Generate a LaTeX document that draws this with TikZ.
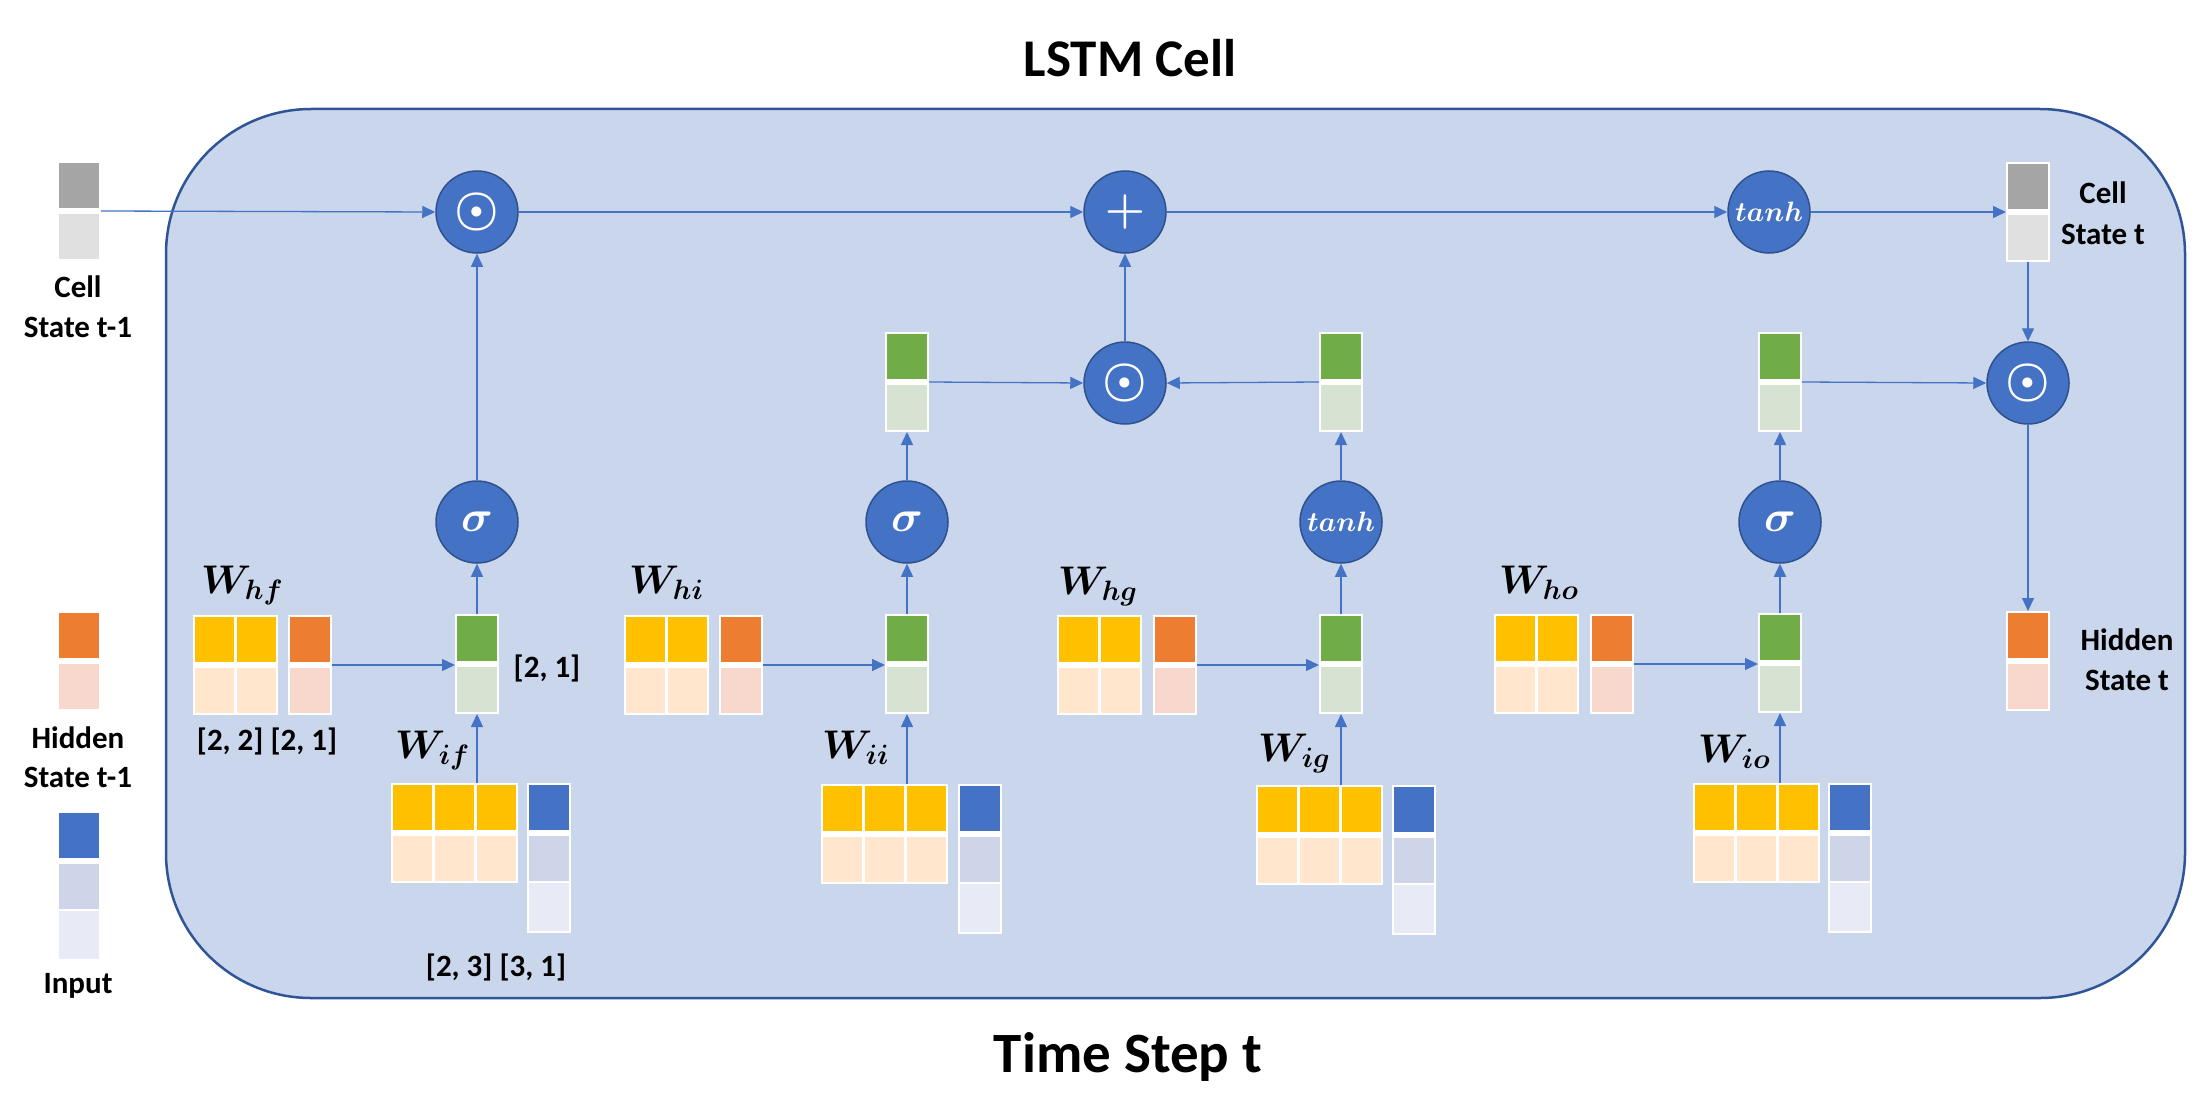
\RequirePackage{fix-cm}
\documentclass[tikz,border=0pt]{standalone}
\usepackage{fontspec}
\setmainfont{Carlito}
\usepackage{amsmath}
\usepackage{bm}
\usetikzlibrary{arrows.meta,calc}
\definecolor{cellbg}{HTML}{CAD6EC}
\definecolor{celledge}{HTML}{2F5597}
\definecolor{opblue}{HTML}{4472C4}
\definecolor{opedge}{HTML}{2F528F}
\definecolor{lineblue}{HTML}{4472C4}
\definecolor{wyel}{HTML}{FFC000}
\definecolor{wpeach}{HTML}{FFE6CC}
\definecolor{horange}{HTML}{ED7D31}
\definecolor{hpink}{HTML}{F8D7CD}
\definecolor{ggreen}{HTML}{70AD47}
\definecolor{ggreenl}{HTML}{D6E3D3}
\definecolor{inblue}{HTML}{4472C4}
\definecolor{inlav}{HTML}{CFD5E8}
\definecolor{inpale}{HTML}{E8EBF5}
\definecolor{cgray}{HTML}{A5A5A5}
\definecolor{cgrayl}{HTML}{E0E0E0}
\newcommand\vtwo[5]{%
  \node[blk, minimum width=44pt, minimum height=100pt] (#1) at (#2,#3) {};
  \fill[#4] (#2+2,#3+2) rectangle ++(40,45);
  \fill[#5] (#2+2,#3+53) rectangle ++(40,45);}
\newcommand\vthree[3]{%
  \node[blk, minimum width=44pt, minimum height=150pt] (#1) at (#2,#3) {};
  \fill[inblue] (#2+2,#3+2) rectangle ++(40,45);
  \fill[inlav] (#2+2,#3+53) rectangle ++(40,45);
  \fill[inpale] (#2+2,#3+100) rectangle ++(40,48);}
\newcommand\wmat[4]{%
  \pgfmathsetmacro\mymw{42*#4+1}%
  \node[blk, minimum width=\mymw pt, minimum height=100pt] (#1) at (#2,#3) {};
  \foreach \k in {1,...,#4}{%
    \fill[wyel] (#2+2+42*\k-42,#3+2) rectangle ++(39,45);
    \fill[wpeach] (#2+2+42*\k-42,#3+53) rectangle ++(39,45);
  }}
\tikzset{
  blk/.style={fill=white, inner sep=0pt, outer sep=0pt, anchor=north west},
  opc/.style={circle, fill=opblue, draw=opedge, line width=1.5pt, minimum size=82pt, inner sep=0pt, text=white},
  arr/.style={draw=lineblue, line width=1.3pt, -{Triangle[length=13pt,width=12pt]}},
  lbl/.style={font=\bfseries\fontsize{31}{31}\selectfont, anchor=base, inner sep=0pt},
  wl/.style={font=\fontsize{40}{40}\selectfont, anchor=base west, inner sep=0pt},
  ttl/.style={font=\bfseries\fontsize{53}{53}\selectfont, anchor=base, inner sep=0pt},
  dotop/.style={font=\fontsize{50}{50}\selectfont},
  plusop/.style={font=\fontsize{46}{46}\selectfont},
  sigop/.style={font=\fontsize{44}{44}\selectfont},
  tanhop/.style={font=\fontsize{28}{28}\selectfont},
}
\begin{document}
\begin{tikzpicture}[x=1pt,y=-1pt]
\useasboundingbox (0,0) rectangle (2208,1110);
% cell background
\draw[fill=cellbg, draw=celledge, line width=2.5pt, rounded corners=145pt] (166,109) rectangle (2185,998);
% titles
\node[ttl] (title) at (1130,77) {LSTM Cell};
\node[ttl, font=\bfseries\fontsize{57}{57}\selectfont] (step) at (1128,1072) {Time Step t};
% legends
\vtwo{lcs}{57}{161}{cgray}{cgrayl}
\vtwo{lhs}{57}{611}{horange}{hpink}
\vthree{lin}{57}{811}
\node[lbl] (lcsa) at (78,297) {Cell};
\node[lbl] (lcsb) at (78,337) {State t-1};
\node[lbl] (lhsa) at (78,748) {Hidden};
\node[lbl] (lhsb) at (78,787) {State t-1};
\node[lbl] (lina) at (78,993) {Input};
% gate f
\wmat{whf}{193}{615}{2}
\vtwo{hf}{288}{615}{horange}{hpink}
\vtwo{gf}{455}{614}{ggreen}{ggreenl}
\wmat{wif}{391}{783}{3}
\vthree{xf}{527}{783}
\node[opc, sigop] (sf) at (477,522) {$\bm{\sigma}$};
\node[wl] (lwhf) at (201,593) {$\bm{W_{hf}}$};
\node[wl] (lwif) at (395,758) {$\bm{W_{if}}$};
\node[lbl] (d1) at (547,677) {[2, 1]};
\node[lbl] (d2) at (267,750) {[2, 2] [2, 1]};
\node[lbl] (d3) at (496,976) {[2, 3] [3, 1]};
% gate i
\wmat{whi}{624}{615}{2}
\vtwo{hi}{719}{615}{horange}{hpink}
\vtwo{gi}{885}{614}{ggreen}{ggreenl}
\wmat{wii}{821}{784}{3}
\vthree{xi}{958}{784}
\node[opc, sigop] (si) at (907,522) {$\bm{\sigma}$};
\vtwo{gio}{885}{332}{ggreen}{ggreenl}
\node[wl] (lwhi) at (629,593) {$\bm{W_{hi}}$};
\node[wl] (lwii) at (822,758) {$\bm{W_{ii}}$};
% gate g
\wmat{whg}{1057}{615}{2}
\vtwo{hg}{1153}{615}{horange}{hpink}
\vtwo{gg}{1319}{614}{ggreen}{ggreenl}
\wmat{wig}{1256}{785}{3}
\vthree{xg}{1392}{785}
\node[opc, tanhop] (tg) at (1341,522) {$\bm{tanh}$};
\vtwo{ggo}{1319}{332}{ggreen}{ggreenl}
\node[wl] (lwhg) at (1058,594) {$\bm{W_{hg}}$};
\node[wl] (lwig) at (1258,761) {$\bm{W_{ig}}$};
% gate o
\wmat{who}{1494}{614}{2}
\vtwo{ho}{1590}{614}{horange}{hpink}
\vtwo{go}{1758}{613}{ggreen}{ggreenl}
\wmat{wio}{1693}{783}{3}
\vthree{xo}{1828}{783}
\node[opc, sigop] (so) at (1780,522) {$\bm{\sigma}$};
\vtwo{goo}{1758}{332}{ggreen}{ggreenl}
\node[wl] (lwho) at (1499,593) {$\bm{W_{ho}}$};
\node[wl] (lwio) at (1698,762) {$\bm{W_{io}}$};
% top row operators
\node[opc, dotop] (mf) at (477,212) {$\bm{\odot}$};
\node[opc, plusop] (pl) at (1125,212) {$\bm{+}$};
\node[opc, tanhop] (tc) at (1769,212) {$\bm{tanh}$};
\node[opc, dotop] (m2) at (1125,383) {$\bm{\odot}$};
\node[opc, dotop] (m3) at (2028,383) {$\bm{\odot}$};
\vtwo{cst}{2006}{162}{cgray}{cgrayl}
\vtwo{hst}{2006}{611}{horange}{hpink}
\node[lbl] (rcsa) at (2103,204) {Cell};
\node[lbl] (rcsb) at (2103,244) {State t};
\node[lbl] (rhsa) at (2127,650) {Hidden};
\node[lbl] (rhsb) at (2127,690) {State t};
% connectors: cell state path
\draw[arr] (lcs.east) -- (mf.west);
\draw[arr] (mf.east) -- (pl.west);
\draw[arr] (pl.east) -- (tc.west);
\draw[arr] (tc.east) -- (cst.west);
\draw[arr] (cst.south) -- (m3.north);
\draw[arr] (m3.south) -- (hst.north);
\draw[arr] (m2.north) -- (pl.south);
\draw[arr] (gio.east) -- (m2.west);
\draw[arr] (ggo.west) -- (m2.east);
\draw[arr] (goo.east) -- (m3.west);
% gate internals
\foreach \h/\w/\g/\s in {hf/wif/gf/sf, hi/wii/gi/si, hg/wig/gg/tg, ho/wio/go/so}{
  \draw[arr] (\h.east) -- (\h.east -| \g.west);
  \draw[arr] (\g.south |- \w.north) -- (\g.south);
  \draw[arr] (\g.north) -- (\s.south);
}
\draw[arr] (sf.north) -- (mf.south);
\draw[arr] (si.north) -- (gio.south);
\draw[arr] (tg.north) -- (ggo.south);
\draw[arr] (so.north) -- (goo.south);
\end{tikzpicture}
\end{document}
